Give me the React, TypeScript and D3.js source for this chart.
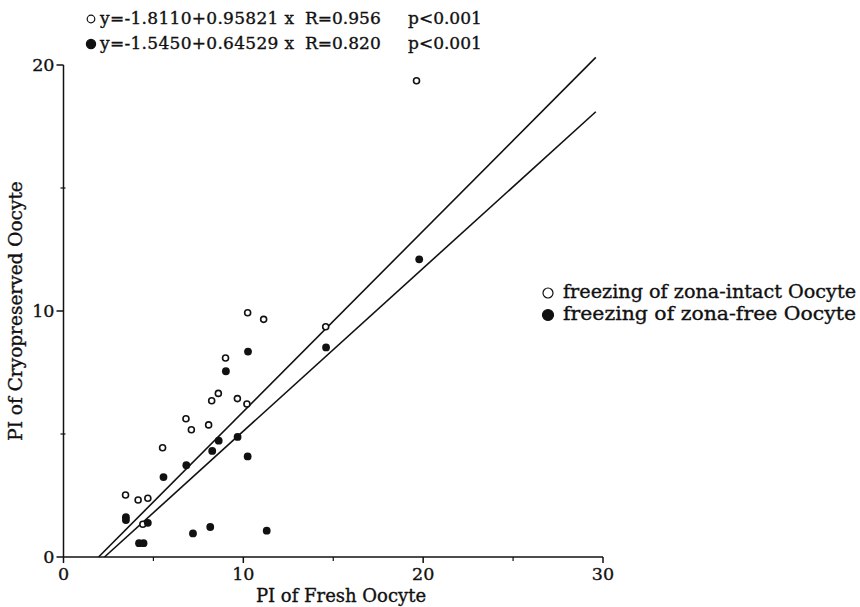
import React from 'react';
import { scaleLinear, line } from 'd3';

const width = 860;
const height = 607;

// zona-intact oocytes (open circles): [fresh PI, cryopreserved PI]
const intactPoints: [number, number][] = [
  [19.63, 19.36], [10.24, 9.93], [11.13, 9.66], [14.58, 9.36], [9.01, 8.09],
  [8.61, 6.65], [8.24, 6.35], [9.67, 6.44], [10.2, 6.22], [6.81, 5.62],
  [7.11, 5.17], [8.07, 5.37], [5.51, 4.44], [3.45, 2.52], [4.15, 2.32],
  [4.69, 2.39], [4.41, 1.33],
];

// zona-free oocytes (filled circles)
const freePoints: [number, number][] = [
  [19.78, 12.1], [14.6, 8.52], [10.26, 8.35], [9.03, 7.55], [8.63, 4.73],
  [9.68, 4.88], [8.27, 4.31], [10.24, 4.09], [6.83, 3.73], [5.56, 3.25],
  [3.47, 1.62], [3.47, 1.5], [4.69, 1.39], [4.2, 0.56], [4.45, 0.56],
  [7.2, 0.96], [8.16, 1.22], [11.3, 1.07],
];

// regression lines as drawn in the figure (end points)
const fitIntact: [number, number][] = [[1.95, 0], [29.6, 20.31]];
const fitFree: [number, number][] = [[2.28, 0], [29.6, 18.1]];

const xTicks = [0, 10, 20, 30];
const xMinor = [5, 15, 25];
const yTicks = [0, 10, 20];
const yMinor = [5, 15];

const equations = [
  { filled: false, eq: 'y=-1.8110+0.95821 x', r: 'R=0.956', p: 'p<0.001' },
  { filled: true, eq: 'y=-1.5450+0.64529 x', r: 'R=0.820', p: 'p<0.001' },
];
const legendLabels = [
  { filled: false, label: 'freezing of zona-intact Oocyte' },
  { filled: true, label: 'freezing of zona-free Oocyte' },
];

const font = "'DejaVu Serif', serif";
const ink = '#111';

export default function App() {
  const x = scaleLinear().domain([0, 30]).range([63.5, 603]);
  const y = scaleLinear().domain([0, 20]).range([557, 65]);
  const path = line<[number, number]>().x(d => x(d[0])).y(d => y(d[1]));

  return (
    <svg width={width} height={height} style={{ position: 'absolute', left: 0, top: 0, background: '#fff' }}>
      {/* equations at the top */}
      <g fontFamily={font} fill={ink} stroke={ink} strokeWidth={0.35}>
        {equations.map((e, i) => (
          <g key={i} transform={`translate(0,${24 + i * 25})`}>
            <circle cx={91} cy={-5} r={e.filled ? 4.6 : 3.8} fill={e.filled ? ink : 'none'}
              stroke={ink} strokeWidth={1.2} />
            <text x={100} fontSize={17} textLength={194} lengthAdjust="spacing">{e.eq}</text>
            <text x={305} fontSize={17}>{e.r}</text>
            <text x={408} fontSize={17}>{e.p}</text>
          </g>
        ))}
      </g>

      {/* axes */}
      <line x1={x(0)} x2={x(0)} y1={y(0)} y2={y(20)} stroke={ink} strokeWidth={1.5} />
      <line x1={x(0)} x2={x(30)} y1={y(0)} y2={y(0)} stroke={ink} strokeWidth={1.5} />
      {xMinor.map(t => (
        <line key={t} x1={x(t)} x2={x(t)} y1={y(0)} y2={y(0) + 4} stroke={ink} strokeWidth={1.2} />
      ))}
      {yMinor.map(t => (
        <line key={t} x1={x(0) - 3} x2={x(0) + 2} y1={y(t)} y2={y(t)} stroke={ink} strokeWidth={1.2} />
      ))}
      <g fontFamily={font} fill={ink} stroke={ink} strokeWidth={0.35}>
        {xTicks.map(t => (
          <g key={t}>
            <line x1={x(t)} x2={x(t)} y1={y(0)} y2={y(0) + 6} stroke={ink} strokeWidth={1.5} />
            <text x={x(t)} y={580} fontSize={17.5} textAnchor="middle">{t}</text>
          </g>
        ))}
        {yTicks.map(t => (
          <g key={t}>
            <line x1={x(0) - 7} x2={x(0)} y1={y(t)} y2={y(t)} stroke={ink} strokeWidth={1.5} />
            <text x={x(0) - 9} y={y(t)} dy="0.36em" fontSize={17.5} textAnchor="end">{t}</text>
          </g>
        ))}
        <text x={341} y={602} fontSize={18} textAnchor="middle">PI of Fresh Oocyte</text>
        <text transform={`translate(22,${311}) rotate(-90)`} fontSize={18.5} textAnchor="middle">
          PI of Cryopreserved Oocyte
        </text>
      </g>

      {/* regression lines */}
      <path d={path(fitIntact) ?? ''} fill="none" stroke={ink} strokeWidth={1.6} />
      <path d={path(fitFree) ?? ''} fill="none" stroke={ink} strokeWidth={1.6} />

      {/* points */}
      {intactPoints.map((d, i) => (
        <circle key={'o' + i} cx={x(d[0])} cy={y(d[1])} r={3} fill="#fff" stroke={ink} strokeWidth={1.6} />
      ))}
      {freePoints.map((d, i) => (
        <circle key={'f' + i} cx={x(d[0])} cy={y(d[1])} r={3.9} fill={ink} />
      ))}

      {/* legend */}
      <g fontFamily={font} fill={ink}>
        {legendLabels.map((l, i) => (
          <g key={i} transform={`translate(0,${298 + i * 22})`}>
            <circle cx={548} cy={-5} r={l.filled ? 5.5 : 5} fill={l.filled ? ink : 'none'}
              stroke={ink} strokeWidth={1.2} />
            <text x={563} fontSize={19} textLength={293} lengthAdjust="spacingAndGlyphs"
              stroke={ink} strokeWidth={0.35}>
              {l.label}
            </text>
          </g>
        ))}
      </g>
    </svg>
  );
}
